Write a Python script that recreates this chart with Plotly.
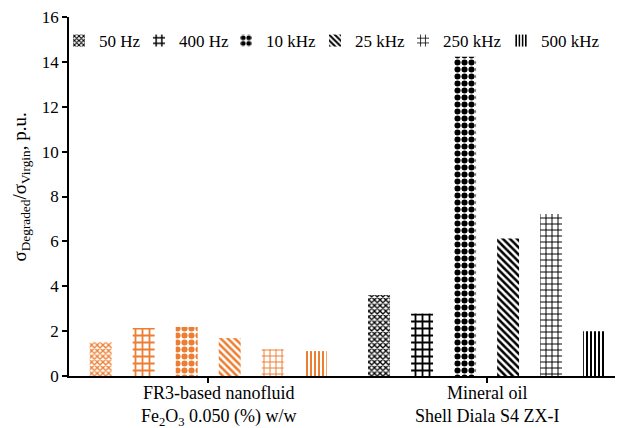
import plotly.graph_objects as go

# ---- data ----
categories = ["FR3-based nanofluid<br>Fe<sub>2</sub>O<sub>3</sub> 0.050 (%) w/w",
              "Mineral oil<br>Shell Diala S4 ZX-I"]
frequencies = ["50 Hz", "400 Hz", "10 kHz", "25 kHz", "250 kHz", "500 kHz"]
fr3_values = [1.52, 2.14, 2.18, 1.69, 1.20, 1.11]
mineral_values = [3.61, 2.79, 14.23, 6.13, 7.22, 2.00]
y_ticks = [0, 2, 4, 6, 8, 10, 12, 14, 16]

# ---- styles ----
FONT = "Liberation Serif, Times New Roman, serif"
ORANGE = "#ED7D31"
BLACK = "#000000"
patterns = [
    dict(shape="x", size=4, solidity=0.55),
    dict(shape="+", size=7, solidity=0.45),
    dict(shape=".", size=7, solidity=0.6),
    dict(shape="\\", size=5, solidity=0.5),
    dict(shape="+", size=6, solidity=0.3),
    dict(shape="|", size=4, solidity=0.5),
]
# the page body adds an 8 px margin, so the figure is drawn 8 px smaller
OFF = 8
W, H = 623 - OFF, 428 - OFF
PLOT_L, PLOT_T, PLOT_H = 69 - OFF, 17 - OFF, 359
PLOT_W = W - PLOT_L
legend_text_px = [99, 179, 266, 355, 443, 541]   # left edge of legend texts (page px)

fig = go.Figure()
for i, f in enumerate(frequencies):
    p = patterns[i]
    lg = "legend" if i == 0 else f"legend{i + 1}"
    for cat, vals, col, show in ((categories[0], fr3_values, ORANGE, False),
                                 (categories[1], mineral_values, BLACK, True)):
        fig.add_trace(go.Bar(
            x=[cat], y=[vals[i]], name=f, offsetgroup=f, legendgroup=f,
            showlegend=show, legend=lg,
            marker=dict(color="white", line=dict(width=0),
                        pattern=dict(shape=p["shape"], size=p["size"],
                                     solidity=p["solidity"], fgcolor=col,
                                     fgopacity=1, bgcolor="white",
                                     fillmode="overlay")),
        ))

legends = {}
for i in range(len(frequencies)):
    key = "legend" if i == 0 else f"legend{i + 1}"
    legends[key] = dict(
        orientation="h", x=(legend_text_px[i] - OFF - 40 - PLOT_L) / PLOT_W,
        y=(376 - 41) / 359, xanchor="left", yanchor="middle",
        font=dict(family=FONT, size=17, color="black"),
        bgcolor="rgba(0,0,0,0)", borderwidth=0)

fig.update_layout(
    width=W, height=H,
    margin=dict(l=PLOT_L, r=0, t=PLOT_T, b=H - PLOT_T - PLOT_H),
    paper_bgcolor="white", plot_bgcolor="white",
    font=dict(family=FONT, size=17, color="black"),
    barmode="group", bargap=0.073, bargroupgap=0.49,
    showlegend=True,
    xaxis=dict(type="category", range=[-0.5, 1.49], showline=True,
               linecolor="black", linewidth=1.5, ticks="outside", ticklen=5,
               tickcolor="black", tickwidth=1.5, showgrid=False,
               showticklabels=False),
    yaxis=dict(range=[0, 16], tickvals=y_ticks, showline=True,
               linecolor="black", linewidth=1.5, ticks="outside", ticklen=5,
               tickcolor="black", tickwidth=1.5, showgrid=False, zeroline=False,
               ticklabeloverflow="allow",
               tickfont=dict(family=FONT, size=17, color="black")),
    **legends,
)
# category labels
for cat, shift in zip(categories, (11, 0)):
    fig.add_annotation(text=cat, x=cat, xref="x", y=0, yref="paper",
                       yanchor="top", yshift=-5, xshift=shift, showarrow=False,
                       align="center",
                       font=dict(family=FONT, size=18, color="black"))
fig.add_annotation(
    text="σ<sub>Degraded</sub>/σ<sub>Virgin</sub>, p.u.",
    xref="paper", yref="paper", x=(21 - 69) / PLOT_W, y=0.525,
    xanchor="center", yanchor="middle",
    textangle=-90, showarrow=False, font=dict(family=FONT, size=19, color="black"),
)
fig.write_html("out.html")
